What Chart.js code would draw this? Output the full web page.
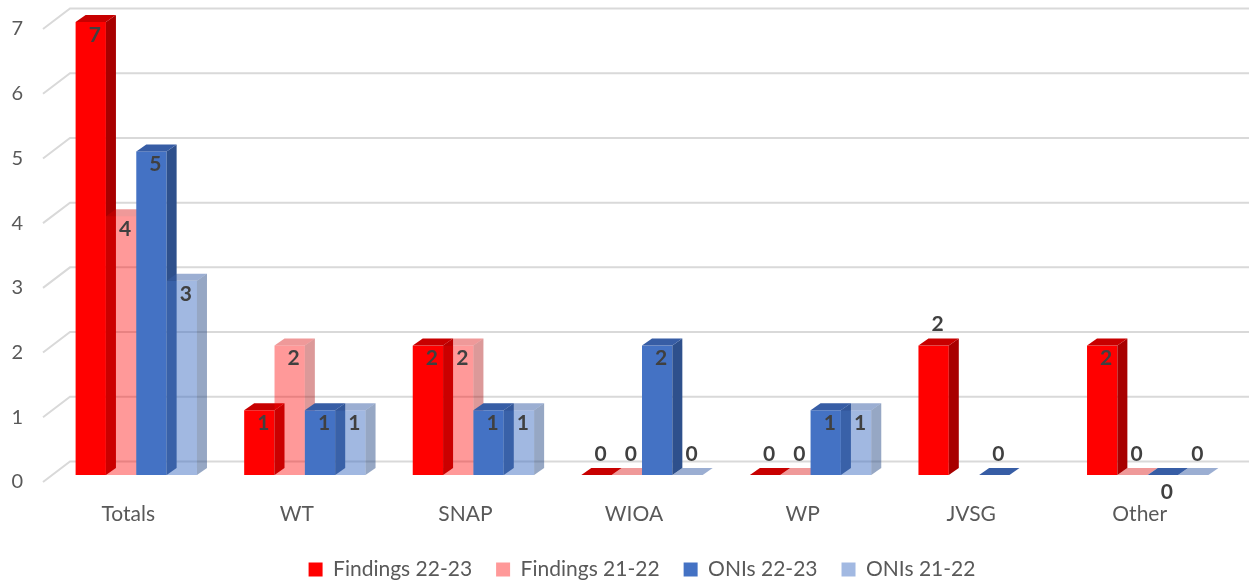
<!DOCTYPE html>
<html>
<head>
<meta charset="utf-8">
<script src="https://cdn.jsdelivr.net/npm/chart.js@4.4.1/dist/chart.umd.min.js"></script>
<style>
  html, body { margin: 0; padding: 0; background: #ffffff; }
  #wrap { width: 1249px; height: 584px; }
</style>
</head>
<body>
<div id="wrap"><canvas id="chart" width="1249" height="584"></canvas></div>
<script>
// ---- data ----
const categories = ['Totals', 'WT', 'SNAP', 'WIOA', 'WP', 'JVSG', 'Other'];
const seriesNames = ['Findings 22-23', 'Findings 21-22', 'ONIs 22-23', 'ONIs 21-22'];
const findings2223 = [7, 1, 2, 0, 0, 2, 2];
const findings2122 = [4, 2, 2, 0, 0, null, 0];
const onis2223 = [5, 1, 1, 2, 1, 0, 0];
const onis2122 = [3, 1, 1, 0, 1, null, 0];
const yTicks = [0, 1, 2, 3, 4, 5, 6, 7];

// ---- look ----
const FONT = "Lato, 'Open Sans', sans-serif";
const TEXT = '#595959';
const LABEL = '#404040';

// front / right side / top colours of each series (21-22 series are translucent)
const faces = [
  { legend: '#FF0000', front: '#FF0000', side: 'rgb(168,0,0)', top: 'rgb(200,0,0)' },
  { legend: '#FF9999', front: 'rgba(255,0,0,0.4)', side: 'rgba(168,0,0,0.4)', top: 'rgba(215,0,0,0.4)' },
  { legend: '#4472C4', front: '#4472C4', side: 'rgb(46,80,140)', top: 'rgb(55,93,165)' },
  { legend: '#A2B9E2', front: 'rgba(68,114,196,0.5)', side: 'rgba(46,79,138,0.5)', top: 'rgba(55,93,165,0.5)' }
];

// depth of a bar, and offsets of the back wall / floor edge from the bar fronts
const DEPTH_X = 10, DEPTH_Y = -7;
const WALL_X = 18, WALL_Y = -13.5;
const FLOOR_X = -9, FLOOR_Y = 7;

// where a value label sits; zeros go above the flat bar unless listed here
const labelSpot = { 'JVSG|0': 'above', 'Other|2': 'below' };

function poly(ctx, pts) {
  ctx.beginPath();
  ctx.moveTo(pts[0][0], pts[0][1]);
  for (let k = 1; k < pts.length; k++) ctx.lineTo(pts[k][0], pts[k][1]);
  ctx.closePath();
  ctx.fill();
}

const columns3d = {
  id: 'columns3d',
  beforeDatasetsDraw(chart) {
    const { ctx, chartArea, scales } = chart;
    const yScale = scales.y;
    ctx.save();

    // gridlines on the back wall, joined to the floor edge by the side wall
    ctx.strokeStyle = '#d9d9d9';
    ctx.lineWidth = 2;
    yTicks.forEach(v => {
      const py = yScale.getPixelForValue(v);
      ctx.beginPath();
      ctx.moveTo(chartArea.left + FLOOR_X, py + FLOOR_Y);
      ctx.lineTo(chartArea.left + WALL_X, py + WALL_Y);
      ctx.lineTo(chart.width, py + WALL_Y);
      ctx.stroke();
    });

    // columns: front face, right side, top, series by series from left to right
    chart.data.datasets.forEach((ds, di) => {
      const meta = chart.getDatasetMeta(di);
      const f = faces[di];
      meta.data.forEach((bar, i) => {
        if (ds.data[i] == null) return;
        const p = bar.getProps(['x', 'y', 'base', 'width'], true);
        const l = p.x - p.width / 2, r = p.x + p.width / 2;
        const top = Math.min(p.y, p.base), base = Math.max(p.y, p.base);
        if (base - top > 0.5) {
          ctx.fillStyle = f.front;
          ctx.fillRect(l, top, p.width, base - top);
          ctx.fillStyle = f.side;
          poly(ctx, [[r, top], [r + DEPTH_X, top + DEPTH_Y], [r + DEPTH_X, base + DEPTH_Y], [r, base]]);
        }
        ctx.fillStyle = f.top;
        poly(ctx, [[l, top], [l + DEPTH_X, top + DEPTH_Y], [r + DEPTH_X, top + DEPTH_Y], [r, top]]);
      });
    });

    // value labels
    ctx.font = 'bold 21px ' + FONT;
    ctx.fillStyle = LABEL;
    ctx.textAlign = 'center';
    ctx.textBaseline = 'middle';
    chart.data.datasets.forEach((ds, di) => {
      const meta = chart.getDatasetMeta(di);
      meta.data.forEach((bar, i) => {
        const v = ds.data[i];
        if (v == null) return;
        const p = bar.getProps(['x', 'y', 'base'], true);
        const spot = labelSpot[categories[i] + '|' + di] || (v === 0 ? 'above' : 'inside');
        let ty;
        if (spot === 'inside') ty = p.y + 13;
        else if (spot === 'above') ty = p.y - 21;
        else ty = p.base + 17;
        ctx.fillText(String(v), p.x + 4, ty);
      });
    });

    ctx.restore();
    return false;
  }
};

const seriesData = [findings2223, findings2122, onis2223, onis2122];

new Chart(document.getElementById('chart').getContext('2d'), {
  type: 'bar',
  data: {
    labels: categories,
    datasets: seriesNames.map((name, k) => ({
      label: name,
      data: seriesData[k],
      backgroundColor: faces[k].legend,
      borderWidth: 0
    }))
  },
  options: {
    responsive: false,
    animation: false,
    events: [],
    layout: { padding: { top: 22, right: 17, left: 11, bottom: -6 } },
    datasets: { bar: { categoryPercentage: 0.72, barPercentage: 1 } },
    scales: {
      x: {
        grid: { display: false, drawTicks: false },
        border: { display: false },
        ticks: { color: TEXT, font: { family: FONT, size: 21 }, padding: 27, labelOffset: -8 },
        afterFit(scale) { scale.height = 60; scale.paddingLeft = 0; scale.paddingRight = 0; }
      },
      y: {
        min: 0,
        max: 7,
        grid: { display: false, drawTicks: false },
        border: { display: false },
        ticks: { stepSize: 1, color: TEXT, font: { family: FONT, size: 20 }, padding: 29, labelOffset: 7 },
        afterFit(scale) { scale.width = 41; scale.paddingTop = 0; scale.paddingBottom = 0; }
      }
    },
    plugins: {
      legend: {
        position: 'bottom',
        fullSize: false,
        labels: { boxWidth: 14, boxHeight: 14, padding: 24, color: TEXT, font: { family: FONT, size: 21 } }
      },
      tooltip: { enabled: false }
    }
  },
  plugins: [columns3d]
});
</script>
</body>
</html>
